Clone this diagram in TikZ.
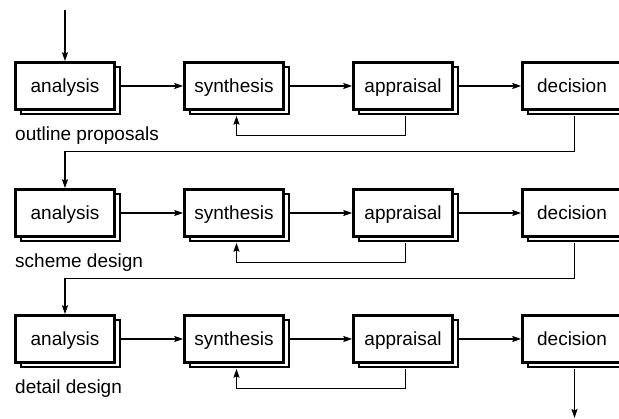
\documentclass[tikz,border=0pt]{standalone}
\usepackage{fontspec}
\setmainfont{Liberation Sans}
\usepackage{tikz}
\usetikzlibrary{arrows.meta}
\usetikzlibrary{shadows}
\usetikzlibrary{positioning}

\begin{document}
\begin{tikzpicture}[x=1pt, y=-1pt, font=\fontsize{19}{22}\selectfont]
	\useasboundingbox (0,0) rectangle (619,419);
	\begin{scope}[every node/.style={draw, line width=2.6pt, fill=white, inner sep=0pt,
	              minimum width=99pt, minimum height=47pt, text height=13.4pt, text depth=0pt,
	              general shadow={shadow xshift=5pt, shadow yshift=-5pt, draw=black, fill=white, line width=2pt}}]
	    	\node (a1) at (65,86) {analysis};
	    	\node (s1) at (234,86) {synthesis};
	    	\node (p1) at (403,86) {appraisal};
	    	\node (d1) at (572,86) {decision};
	    	\node (a2) at (65,213) {analysis};
	    	\node (s2) at (234,213) {synthesis};
	    	\node (p2) at (403,213) {appraisal};
	    	\node (d2) at (572,213) {decision};
	    	\node (a3) at (65,339) {analysis};
	    	\node (s3) at (234,339) {synthesis};
	    	\node (p3) at (403,339) {appraisal};
	    	\node (d3) at (572,339) {decision};
	\end{scope}
	\begin{scope}[every node/.style={anchor=base west, inner sep=0pt}]
	    	\node (l1) at (15,140.5) {outline proposals};
	    	\node (l2) at (15,267.5) {scheme design};
	    	\node (l3) at (15,393.5) {detail design};
	\end{scope}
	\coordinate (start) at (65,10);
	\coordinate (finish) at (574.5,418);
	\begin{scope}[>={Stealth[length=9pt, width=6pt, inset=1.5pt]},
	              every edge/.style={draw=black, line width=1.1pt, ->},
	              line width=1.1pt]
		\path (start) edge (a1.north);
		% rows
		\path ([xshift=5pt]a1.east) edge (s1.west);
		\path ([xshift=5pt]s1.east) edge (p1.west);
		\path ([xshift=5pt]p1.east) edge (d1.west);
		\path ([xshift=5pt]a2.east) edge (s2.west);
		\path ([xshift=5pt]s2.east) edge (p2.west);
		\path ([xshift=5pt]p2.east) edge (d2.west);
		\path ([xshift=5pt]a3.east) edge (s3.west);
		\path ([xshift=5pt]s3.east) edge (p3.west);
		\path ([xshift=5pt]p3.east) edge (d3.west);
		% feedback
		\draw[->] ([xshift=2.5pt, yshift=-5pt]p1.south) -- ++(0,20) -| ([xshift=2.5pt, yshift=-5pt]s1.south);
		\draw[->] ([xshift=2.5pt, yshift=-5pt]p2.south) -- ++(0,20) -| ([xshift=2.5pt, yshift=-5pt]s2.south);
		\draw[->] ([xshift=2.5pt, yshift=-5pt]p3.south) -- ++(0,20) -| ([xshift=2.5pt, yshift=-5pt]s3.south);
		% next stage
		\draw[->] ([xshift=2.5pt, yshift=-5pt]d1.south) -- ++(0,36) -| (a2.north);
		\draw[->] ([xshift=2.5pt, yshift=-5pt]d2.south) -- ++(0,36) -| (a3.north);
		\draw[->] ([xshift=2.5pt, yshift=-5pt]d3.south) -- (finish);
	\end{scope}
\end{tikzpicture}
\end{document}
